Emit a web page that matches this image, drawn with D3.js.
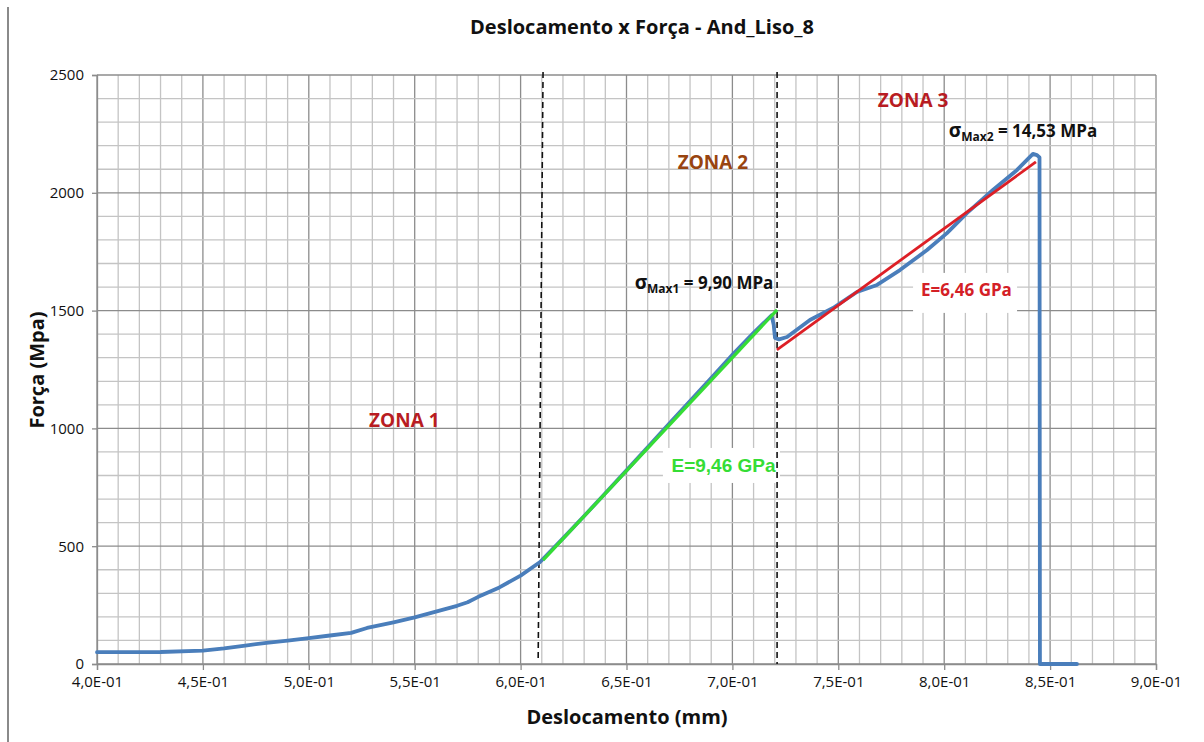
<!DOCTYPE html>
<html>
<head>
<meta charset="UTF-8" />
<title>Deslocamento x Força</title>
<script src="https://cdn.jsdelivr.net/npm/d3@7"></script>
<style>
body{margin:0;background:#fff;}
text{font-family:"Open Sans",sans-serif;}
</style>
</head>
<body>
<div id="svg_container"></div>
<script type="text/javascript">

var w=1204,h=742;
var pLeft=97,pRight=1156,pTop=75,pBottom=664;

// curva medida (deslocamento mm, força)
var desloc=[0.400,0.430,0.450,0.460,0.470,0.480,0.490,0.500,0.510,0.520,0.5275,0.540,0.550,0.560,0.570,0.575,0.580,0.590,0.600,0.6092,
  0.620,0.630,0.640,0.650,0.660,0.670,0.680,0.690,0.700,0.710,0.716,0.7185,0.7195,0.7201,0.722,0.7258,0.7366,0.7475,0.7588,0.7683,
  0.7791,0.7919,0.8013,0.8107,0.8230,0.8344,0.8419,0.8438,0.8450,0.8452,0.8627];
var forca=[50,51,57,66,78,90,99,110,121,132,153,177,198,222,247,262,285,325,375,433,
  533,628,725,822,920,1018,1116,1214,1312,1406,1458,1480,1440,1384,1378,1388,1460,1511,1579,1609,
  1672,1757,1829,1914,2012,2097,2165,2160,2150,0,0];

// retas de ajuste
var zona2_x=[0.6106,0.7211], zona2_y=[441,1503];
var zona3_x=[0.7210,0.8433], zona3_y=[1333,2131];

// limites das zonas (linhas tracejadas)
var div1_x=[0.6106,0.6083], div1_y=[2513,25];
var div2_x=[0.7211,0.7211], div2_y=[2513,0];

var xTicks=[0.40,0.45,0.50,0.55,0.60,0.65,0.70,0.75,0.80,0.85,0.90];
var xTickLabels=['4,0E-01','4,5E-01','5,0E-01','5,5E-01','6,0E-01','6,5E-01','7,0E-01','7,5E-01','8,0E-01','8,5E-01','9,0E-01'];
var yTicks=[0,500,1000,1500,2000,2500];

var x=d3.scaleLinear().domain([0.4,0.9]).range([pLeft,pRight]);
var y=d3.scaleLinear().domain([0,2500]).range([pBottom,pTop]);

var svg=d3.select('#svg_container').append('svg')
  .attr('width',w).attr('height',h);

// borda da página
svg.append('line').attr('x1',8).attr('x2',8).attr('y1',7).attr('y2',742)
  .attr('stroke','#8a8a8a').attr('stroke-width',2);

//grade
var minorX=d3.range(40,91).map(function(d){return d/100;});
var minorY=d3.range(0,26).map(function(d){return d*100;});
svg.append('g').selectAll('line').data(minorX).enter().append('line')
  .attr('x1',function(d){return x(d);}).attr('x2',function(d){return x(d);})
  .attr('y1',pTop).attr('y2',pBottom)
  .attr('stroke',function(d,i){return i%5==0?'#8c8c8c':'#c4c4c4';})
  .attr('stroke-width',1.3);
svg.append('g').selectAll('line').data(minorY).enter().append('line')
  .attr('x1',pLeft).attr('x2',pRight)
  .attr('y1',function(d){return y(d);}).attr('y2',function(d){return y(d);})
  .attr('stroke',function(d,i){return i%5==0?'#8c8c8c':'#c4c4c4';})
  .attr('stroke-width',1.3);

//eixos
var xAxis=d3.axisBottom(x).tickValues(xTicks).tickSize(6).tickPadding(6)
  .tickFormat(function(d,i){return xTickLabels[i];});
var gx=svg.append('g').attr('transform','translate(0,'+pBottom+')').call(xAxis);
var yAxis=d3.axisLeft(y).tickValues(yTicks).tickSize(5).tickPadding(8).tickFormat(d3.format('d'));
var gy=svg.append('g').attr('transform','translate('+pLeft+',0)').call(yAxis);
[gx,gy].forEach(function(g){
  g.select('.domain').attr('stroke','#8c8c8c').attr('stroke-width',1.3);
  g.selectAll('.tick line').attr('stroke','#8c8c8c').attr('stroke-width',1.3);
  g.selectAll('.tick text').attr('font-family','Open Sans').attr('font-size',15).attr('fill','#111');
});

//caixas brancas dos rótulos
svg.append('rect').attr('x',x(0.7853)).attr('y',y(1660)).attr('width',104).attr('height',40).attr('fill','#fff');
svg.append('rect').attr('x',x(0.6672)).attr('y',y(917)).attr('width',117).attr('height',35).attr('fill','#fff');

//linhas tracejadas
[[div1_x,div1_y],[div2_x,div2_y]].forEach(function(p){
  svg.append('line')
    .attr('x1',x(p[0][0])).attr('y1',y(p[1][0]))
    .attr('x2',x(p[0][1])).attr('y2',y(p[1][1]))
    .attr('stroke','#111').attr('stroke-width',1.6).attr('stroke-dasharray','6,4');
});

//curva
var pts=desloc.map(function(d,i){return [d,forca[i]];});
svg.append('path').datum(pts).attr('d',d3.line().x(function(d){return x(d[0]);}).y(function(d){return y(d[1]);}))
  .attr('fill','none').attr('stroke','#4a7ebb').attr('stroke-width',3.8)
  .attr('stroke-linejoin','round').attr('stroke-linecap','round');

//retas
svg.append('line').attr('x1',x(zona2_x[0])).attr('y1',y(zona2_y[0])).attr('x2',x(zona2_x[1])).attr('y2',y(zona2_y[1]))
  .attr('stroke','#35dd35').attr('stroke-width',3.2);
svg.append('line').attr('x1',x(zona3_x[0])).attr('y1',y(zona3_y[0])).attr('x2',x(zona3_x[1])).attr('y2',y(zona3_y[1]))
  .attr('stroke','#dd1f26').attr('stroke-width',2.8);

//textos
function label(t,xv,yv,size,color,anchor){
  return svg.append('text').attr('x',x(xv)).attr('y',y(yv)).attr('font-size',size)
    .attr('font-weight','bold').attr('fill',color).attr('text-anchor',anchor||'start').text(t);
}
label('ZONA 1',0.5451,1006,19,'#b81c22','middle');
label('ZONA 2',0.6908,2101,19,'#984410','middle');
label('ZONA 3',0.7853,2364,19,'#b81c22','middle');
label('E=9,46 GPa',0.6958,815,19,'#35dd35','middle').style('font-family','"Liberation Sans",Arial,sans-serif');
label('E=6,46 GPa',0.8105,1562,17,'#d42026','middle');

function sigma(sub,val,xv,yv){
  var t=svg.append('text').attr('x',x(xv)).attr('y',y(yv)).attr('font-size',17)
    .attr('font-weight','bold').attr('fill','#111').attr('text-anchor','middle');
  t.append('tspan').text('σ').attr('font-size',19);
  t.append('tspan').text(sub).attr('font-size',12).attr('dy',4);
  t.append('tspan').text(' = '+val).attr('dy',-4);
}
sigma('Max1','9,90 MPa',0.6866,1592);
sigma('Max2','14,53 MPa',0.8372,2237);

//títulos
svg.append('text').attr('x',642).attr('y',34).attr('text-anchor','middle')
  .attr('font-size',20).attr('font-weight','bold').attr('fill','#111')
  .text('Deslocamento x Força - And_Liso_8');
svg.append('text').attr('x',627).attr('y',724).attr('text-anchor','middle')
  .attr('font-size',20).attr('font-weight','bold').attr('fill','#111')
  .text('Deslocamento (mm)');
svg.append('text').attr('transform','translate(44,370) rotate(-90)').attr('text-anchor','middle')
  .attr('font-size',20).attr('font-weight','bold').attr('fill','#111')
  .text('Força (Mpa)');

</script>
</body>
</html>
